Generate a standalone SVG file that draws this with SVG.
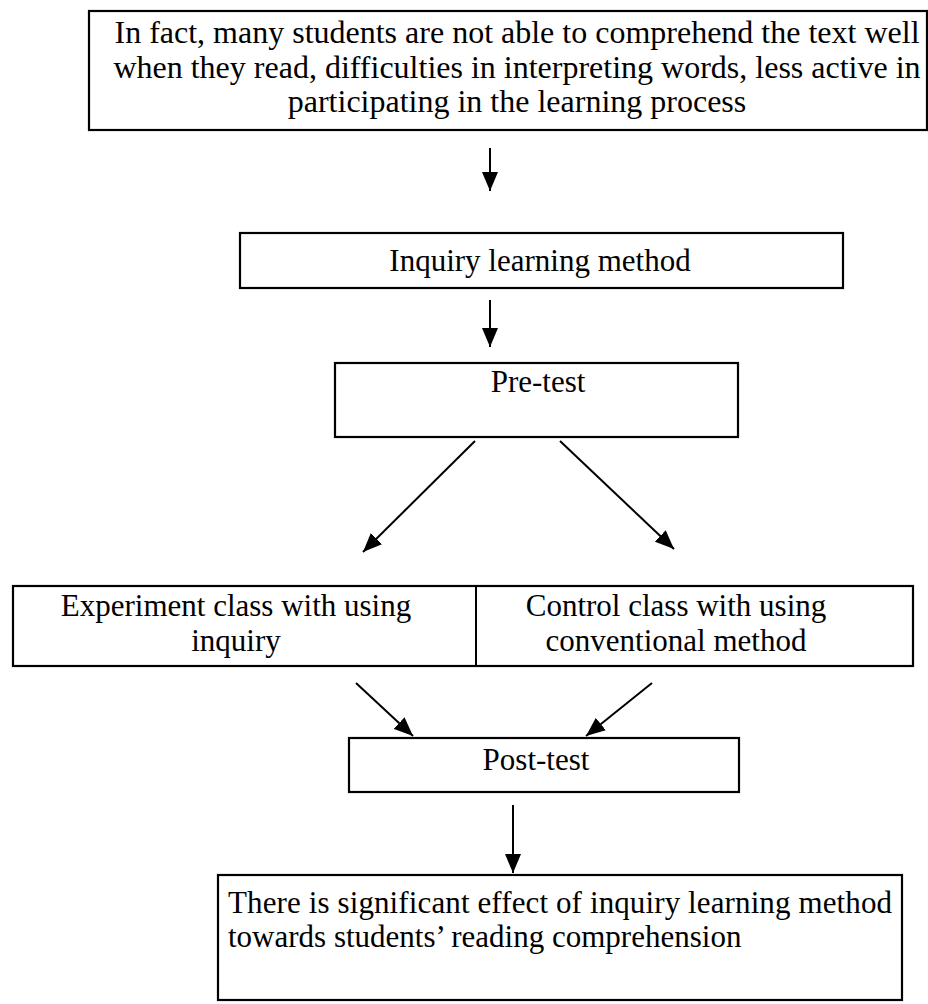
<svg xmlns="http://www.w3.org/2000/svg" width="928" height="1004" viewBox="0 0 928 1004">
<style>
.box{fill:#fff;stroke:#000;stroke-width:2.2}
.t{font-family:"Liberation Serif","Times New Roman",serif;font-size:31px;fill:#000}
.big{font-size:32px}
.c{text-anchor:middle}
.con line{stroke:#000;stroke-width:2}
</style>
<defs>
<marker id="ah2" viewBox="0 0 19 16" refX="19" refY="8" markerWidth="19" markerHeight="16" orient="auto" markerUnits="userSpaceOnUse">
<path d="M0,0 L19,8 L0,16 z" fill="#000"/>
</marker>
</defs>
<rect width="928" height="1004" fill="#fff"/>
<g id="problem">
<rect class="box" x="89" y="11" width="838" height="119"/>
<text class="t big c" x="517" y="43">In fact, many students are not able to comprehend the text well</text>
<text class="t big c" x="517" y="78">when they read, difficulties in interpreting words, less active in</text>
<text class="t big c" x="517" y="112">participating in the learning process</text>
</g>
<g id="inquiry">
<rect class="box" x="240" y="233" width="603" height="55"/>
<text class="t c" x="540" y="271">Inquiry learning method</text>
</g>
<g id="pretest">
<rect class="box" x="335" y="363" width="403" height="74"/>
<text class="t c" x="538" y="392">Pre-test</text>
</g>
<g id="classes">
<rect class="box" x="13" y="586" width="900" height="80"/>
<line x1="476" y1="586" x2="476" y2="666" stroke="#000" stroke-width="2"/>
<text class="t c" x="236" y="616">Experiment class with using</text>
<text class="t c" x="236" y="651">inquiry</text>
<text class="t c" x="676" y="616">Control class with using</text>
<text class="t c" x="676" y="651">conventional method</text>
</g>
<g id="posttest">
<rect class="box" x="349" y="738" width="390" height="54"/>
<text class="t c" x="536" y="770">Post-test</text>
</g>
<g id="result">
<rect class="box" x="218" y="875" width="684" height="125"/>
<text class="t" x="228" y="913" textLength="664" lengthAdjust="spacing">There is significant effect of inquiry learning method</text>
<text class="t" x="228" y="947">towards students’ reading comprehension</text>
</g>
<g id="connectors" class="con">
<line x1="490" y1="148" x2="490" y2="191" marker-end="url(#ah2)"/>
<line x1="490" y1="300" x2="490" y2="347" marker-end="url(#ah2)"/>
<line x1="475" y1="441" x2="363" y2="552" marker-end="url(#ah2)"/>
<line x1="560" y1="441" x2="674" y2="549" marker-end="url(#ah2)"/>
<line x1="356" y1="683" x2="413" y2="736" marker-end="url(#ah2)"/>
<line x1="652" y1="683" x2="586" y2="736" marker-end="url(#ah2)"/>
<line x1="513" y1="805" x2="513" y2="873" marker-end="url(#ah2)"/>
</g>
</svg>
